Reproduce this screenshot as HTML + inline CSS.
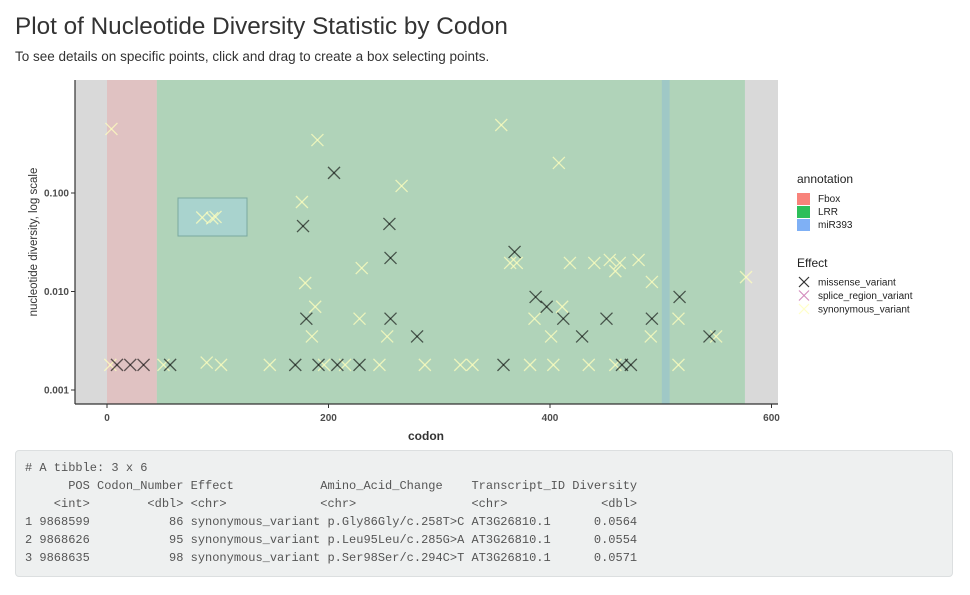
<!DOCTYPE html>
<html><head><meta charset="utf-8"><style>
body{margin:0;width:970px;height:595px;background:#fff;font-family:"Liberation Sans",sans-serif;overflow:hidden;position:relative}
#title{position:absolute;left:15px;top:13px;font-size:24.3px;color:#333}
#sub{position:absolute;left:15px;top:49px;font-size:13.5px;color:#333}
#tbl{position:absolute;left:15px;top:450px;width:938px;height:127px;background:#eef0f0;border:1px solid #dcdfe0;border-radius:4px;box-sizing:border-box;margin:0;padding:8px 9px;font-family:"Liberation Mono",monospace;font-size:12px;line-height:18px;color:#555;white-space:pre}
svg{position:absolute;left:0;top:0}
</style></head><body>
<div id="title">Plot of Nucleotide Diversity Statistic by Codon</div>
<div id="sub">To see details on specific points, click and drag to create a box selecting points.</div>
<svg id="chart" width="970" height="445"></svg>
<pre id="tbl"># A tibble: 3 x 6
      POS Codon_Number Effect            Amino_Acid_Change    Transcript_ID Diversity
    &lt;int&gt;        &lt;dbl&gt; &lt;chr&gt;             &lt;chr&gt;                &lt;chr&gt;             &lt;dbl&gt;
1 9868599           86 synonymous_variant p.Gly86Gly/c.258T&gt;C AT3G26810.1      0.0564
2 9868626           95 synonymous_variant p.Leu95Leu/c.285G&gt;A AT3G26810.1      0.0554
3 9868635           98 synonymous_variant p.Ser98Ser/c.294C&gt;T AT3G26810.1      0.0571</pre>
<script>
const regionNames=["Fbox","LRR","miR393"];
const regionStart=[0,45,501];
const regionEnd=[45,576,508];
const missCodon=[9,21,33,57,170,191,208,228,358,465,473,177,205,255,256,180,256,280,368,387,397,412,429,451,492,517,544];
const missDiv=[0.0018,0.0018,0.0018,0.0018,0.0018,0.0018,0.0018,0.0018,0.0018,0.0018,0.0018,0.0462,0.160,0.0485,0.0219,0.0053,0.0053,0.0035,0.0252,0.0088,0.0070,0.0053,0.0035,0.0053,0.0053,0.0088,0.0035];
const synCodon=[4,190,266,176,86,95,98,230,179,188,228,185,253,3,51,90,103,147,196,215,246,287,319,330,382,403,435,459,516,356,408,364,370,418,440,454,463,459,480,492,577,411,386,516,401,491,550];
const synDiv=[0.447,0.345,0.118,0.081,0.0564,0.0554,0.0571,0.0173,0.0122,0.0070,0.0053,0.0035,0.0035,0.0018,0.0018,0.0019,0.0018,0.0018,0.0018,0.0018,0.0018,0.0018,0.0018,0.0018,0.0018,0.0018,0.0018,0.0018,0.0018,0.490,0.202,0.0195,0.0195,0.0195,0.0195,0.0209,0.0195,0.0161,0.0209,0.0125,0.0140,0.0070,0.0053,0.0053,0.0035,0.0035,0.0035];
const xTicks=[0,200,400,600];
const yTicks=[0.001,0.01,0.1];
const yTickLabels=["0.001","0.010","0.100"];
const NS="http://www.w3.org/2000/svg";
const svg=document.getElementById('chart');
const X=v=>107+v*1.1075;
const Y=v=>390-(Math.log10(v)+3)*98.5;
function mk(t,a,p){const e=document.createElementNS(NS,t);for(const k in a)e.setAttribute(k,a[k]);(p||svg).appendChild(e);return e;}
const L=75,R=778,T=80,B=404;
let bg=mk('rect',{x:L,y:T,width:R-L,height:B-T,fill:'#d9d9d9'});


const rc=['#e0c2c2','#b0d3b9','#9fc8c6'];
regionNames.forEach((n,i)=>{
  const r=mk('rect',{x:X(regionStart[i]),y:T,width:X(regionEnd[i])-X(regionStart[i]),height:B-T,fill:rc[i]});
  
  
});
mk('line',{x1:L,y1:T,x2:L,y2:B,stroke:'#333','stroke-width':1.2});
mk('line',{x1:L,y1:B,x2:R,y2:B,stroke:'#333','stroke-width':1.2});
xTicks.forEach(t=>{
  mk('line',{x1:X(t),y1:B,x2:X(t),y2:B+4,stroke:'#333'});
  const tx=mk('text',{x:X(t),y:B+17,'text-anchor':'middle','font-size':10,'font-weight':'bold',fill:'#4d4d4d'});tx.textContent=t;
  
  
});
yTicks.forEach((t,i)=>{
  mk('line',{x1:L-4,y1:Y(t),x2:L,y2:Y(t),stroke:'#333'});
  const tx=mk('text',{x:L-6,y:Y(t)+3.5,'text-anchor':'end','font-size':10,'font-weight':'bold',fill:'#4d4d4d'});tx.textContent=yTickLabels[i];
  
  
});
let xt=mk('text',{x:426,y:440,'text-anchor':'middle','font-size':12,'font-weight':'bold',fill:'#333'});xt.textContent='codon';


let yt=mk('text',{x:37,y:242,'text-anchor':'middle','font-size':11.5,fill:'#333',transform:'rotate(-90 37 242)'});yt.textContent='nucleotide diversity, log scale';


let sel=mk('rect',{x:178,y:198,width:69,height:38,fill:'rgba(165,212,220,0.6)',stroke:'#7aa8a0','stroke-width':1});


function cross(x,y,c,name){
  const g=mk('g',{stroke:c,'stroke-width':1.3});
  
  
  mk('line',{x1:x-6,y1:y-6,x2:x+6,y2:y+6},g);mk('line',{x1:x-6,y1:y+6,x2:x+6,y2:y-6},g);
}
synCodon.forEach((c,i)=>cross(X(c),Y(synDiv[i]),'rgba(255,255,190,0.75)','synonymous-point'));
missCodon.forEach((c,i)=>cross(X(c),Y(missDiv[i]),'rgba(0,0,0,0.6)','missense-point'));
let lt=mk('text',{x:797,y:183,'font-size':12,fill:'#222'});lt.textContent='annotation';


const lc=['#f8837b','#2dbf5a','#7fb0f5'];
regionNames.forEach((n,i)=>{
  const g=mk('g',{});
  
  
  mk('rect',{x:797,y:193+i*13,width:13,height:12,fill:lc[i]},g);
  const t=mk('text',{x:818,y:202+i*13,'font-size':10,fill:'#222'},g);t.textContent=n;
});
let et=mk('text',{x:797,y:267,'font-size':12,fill:'#222'});et.textContent='Effect';


const eN=['missense_variant','splice_region_variant','synonymous_variant'];
const eC=['#333','#d48fbf','#ffffc8'];
eN.forEach((n,i)=>{
  const g=mk('g',{});
  
  
  const y=282+i*13.5;
  mk('line',{x1:799,y1:y-5,x2:809,y2:y+5,stroke:eC[i],'stroke-width':1.2},g);
  mk('line',{x1:799,y1:y+5,x2:809,y2:y-5,stroke:eC[i],'stroke-width':1.2},g);
  const t=mk('text',{x:818,y:y+3.5,'font-size':10,fill:'#222'},g);t.textContent=n;
});
</script>
</body></html>
